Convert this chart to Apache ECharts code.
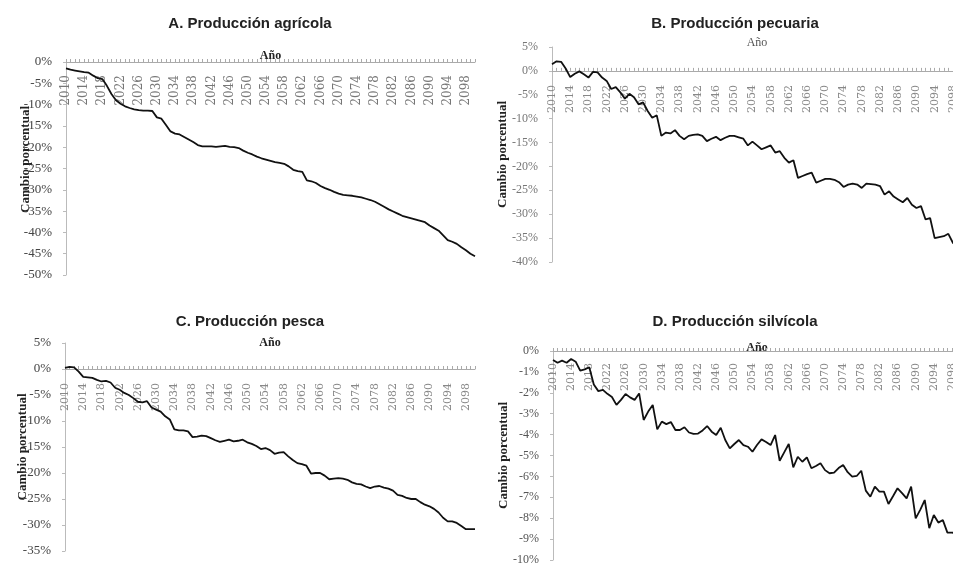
<!DOCTYPE html>
<html>
<head>
<meta charset="utf-8">
<script src="https://cdn.jsdelivr.net/npm/echarts@6/dist/echarts.min.js"></script>
<style>
  html, body { margin: 0; padding: 0; background: #fff; }
  #chart { width: 953px; height: 563px; }
</style>
</head>
<body>
<div id="chart"></div>
<script>
// años 2010 - 2100
const years = []
for (let y = 2010; y <= 2100; y++) years.push(String(y))

const titles = ['A. Producción agrícola', 'B. Producción pecuaria', 'C. Producción pesca', 'D. Producción silvícola']

// cambio porcentual (%)
const agricola = [
  -1.5, -1.8, -2.0, -2.2, -2.4, -2.5, -3.2, -3.8, -4.0, -5.6,
  -7.5, -9.0, -9.8, -10.4, -10.8, -11.1, -11.3, -11.4, -11.4, -11.5,
  -13.0, -13.3, -14.8, -16.3, -16.8, -17.0, -17.6, -18.2, -18.8, -19.5,
  -19.8, -19.8, -19.8, -19.9, -19.8, -19.7, -19.9, -20.0, -20.2, -20.8,
  -21.3, -21.7, -22.2, -22.6, -22.9, -23.2, -23.5, -23.7, -23.9, -24.5,
  -25.3, -25.6, -25.8, -27.8, -28.0, -28.4, -29.1, -29.6, -30.0, -30.5,
  -30.9, -31.2, -31.3, -31.4, -31.6, -31.8, -32.1, -32.4, -32.8, -33.4,
  -34.0, -34.6, -35.1, -35.6, -36.1, -36.4, -36.7, -37.0, -37.3, -37.6,
  -38.4, -39.0, -39.6, -40.7, -41.8, -42.2, -42.7, -43.5, -44.2, -45.0,
  -45.6
]
const pecuaria = [
  1.4, 2.0, 1.9, 0.5, -1.3, -0.6, -0.1, -0.7, -1.4, -0.2,
  -0.3, -1.4, -2.1, -3.8, -3.4, -4.5, -5.8, -4.8, -5.5, -7.0,
  -6.6, -8.4, -9.8, -9.3, -13.6, -12.9, -13.1, -12.4, -13.6, -14.3,
  -13.6, -13.4, -13.3, -13.6, -14.7, -14.2, -13.8, -14.5, -14.0, -13.6,
  -13.6, -13.9, -14.2, -15.6, -14.8, -15.6, -16.4, -16.0, -15.6, -17.1,
  -16.8, -18.2, -19.2, -18.7, -22.4, -22.0, -21.6, -21.3, -23.4, -23.0,
  -22.6, -22.6, -22.8, -23.3, -24.3, -23.8, -23.6, -23.8, -24.5, -23.6,
  -23.7, -23.8, -24.1, -25.9, -25.2, -26.3, -26.9, -27.5, -26.6, -28.0,
  -28.7, -28.3, -31.1, -30.8, -35.0, -34.8, -34.6, -34.1, -36.0, -36.6,
  -37.2
]
const pesca = [
  0.2, 0.4, 0.3, -0.5, -1.5, -1.6, -1.7, -2.1, -2.4, -2.3,
  -2.6, -3.6, -4.0, -4.6, -5.0, -5.6, -6.3, -6.4, -6.2, -7.4,
  -7.8, -8.2, -9.1, -9.7, -11.6, -11.8, -11.8, -12.0, -13.1, -13.0,
  -12.8, -12.9, -13.3, -13.7, -14.0, -13.8, -13.6, -13.9, -13.8, -13.6,
  -14.1, -14.4, -14.8, -15.4, -15.2, -15.6, -16.3, -16.1, -16.0, -16.8,
  -17.5, -18.1, -18.3, -18.6, -20.1, -20.0, -20.0, -20.5, -21.2, -21.1,
  -21.0, -21.1, -21.3, -21.8, -22.1, -22.2, -22.6, -22.9, -22.6, -22.5,
  -22.8, -23.0, -23.4, -24.2, -24.4, -24.8, -25.0, -25.0, -25.6, -26.1,
  -26.4, -26.9, -27.6, -28.6, -29.3, -29.3, -29.6, -30.2, -30.8, -30.8,
  -30.8
]
const silvicola = [
  -0.43, -0.56, -0.46, -0.56, -0.38, -0.51, -0.94, -0.88, -0.78, -1.60,
  -1.92, -1.86, -2.05, -2.20, -2.58, -2.34, -2.06, -2.22, -2.34, -2.03,
  -3.30, -2.90, -2.58, -3.75, -3.38, -3.50, -3.40, -3.78, -3.78, -3.65,
  -3.90, -3.97, -3.95, -3.80, -3.59, -3.86, -4.02, -3.67, -4.26, -4.66,
  -4.45, -4.26, -4.50, -4.58, -4.82, -4.50, -4.23, -4.35, -4.50, -4.02,
  -5.25, -4.85, -4.45, -5.57, -5.06, -5.30, -5.09, -5.61, -5.50, -5.37,
  -5.70, -5.85, -5.82, -5.60, -5.45, -5.80, -6.01, -5.98, -5.73, -6.68,
  -6.97, -6.49, -6.73, -6.73, -7.32, -6.95, -6.57, -6.80, -7.05, -6.49,
  -8.01, -7.60, -7.13, -8.48, -7.85, -8.21, -8.09, -8.69, -8.69, -8.72,
  -8.75
]

const serie = [agricola, pecuaria, pesca, silvicola]
const yMin = [-50, -40, -35, -10]
const yMax = [0, 5, 5, 0]
const yStep = [5, 5, 5, 1]

// pixel layout of each panel (B y D se salen por la derecha, como en el original)
const grids = [
  { left: 66, top: 62, width: 409, height: 213 },
  { left: 552, top: 47, width: 410, height: 215 },
  { left: 65, top: 343, width: 410, height: 208 },
  { left: 553, top: 351, width: 408, height: 209 }
]
const titlePos = [[245, 11], [730, 11], [245, 309], [730, 309]]
const anoGap = [0, -2, -6, -3]
const nameGap = [34, 43, 36, 43]
const namePad = [[0, 0, 0, 18], [0, 0, 0, 0], [0, 0, 0, 0], [0, 0, 0, 0]]
const lblSize = [13, 12, 13, 12]
const lblColor = ['#444', '#777', '#444', '#555']
const xLblSize = [12, 11, 11, 11]
const xLblColor = ['#777', '#888', '#888', '#888']
const xLblMargin = [13, 38, 40, 12]

const myChart = echarts.init(document.getElementById('chart'))

let title = [], xAxis = [], yAxis = [], series = []
for (let i = 0; i < 4; i++) {
  grids[i].outerBoundsMode = 'none'
  grids[i].containLabel = false
  title.push({
    text: titles[i],
    left: titlePos[i][0],
    top: titlePos[i][1],
    textAlign: 'center',
    textStyle: { fontFamily: 'Liberation Sans', fontSize: 15, fontWeight: 'bold', color: '#222' }
  })
  xAxis.push({
    type: 'category',
    gridIndex: i,
    data: years,
    position: 'top',
    boundaryGap: false,
    name: 'Año',
    nameLocation: 'middle',
    nameGap: anoGap[i],
    nameMoveOverlap: false,
    nameTextStyle: { fontFamily: 'Liberation Serif', fontSize: 12, fontWeight: i === 1 ? 'normal' : 'bold', color: i === 1 ? '#555' : '#222' },
    axisLine: { onZero: true, lineStyle: { color: '#aaa', width: 1 } },
    axisTick: { show: true, interval: 0, length: 3, lineStyle: { color: '#aaa' } },
    axisLabel: {
      inside: true,
      interval: 3,
      rotate: 90,
      align: 'right',
      verticalAlign: 'middle',
      margin: xLblMargin[i],
      fontFamily: 'DejaVu Serif',
      fontSize: xLblSize[i],
      color: xLblColor[i]
    },
    splitLine: { show: false }
  })
  yAxis.push({
    type: 'value',
    gridIndex: i,
    min: yMin[i],
    max: yMax[i],
    interval: yStep[i],
    name: 'Cambio porcentual',
    nameLocation: 'middle',
    nameGap: nameGap[i],
    nameMoveOverlap: false,
    nameTextStyle: { fontFamily: 'Liberation Serif', fontSize: 13, fontWeight: 'bold', color: '#222', padding: namePad[i] },
    axisLine: { show: true, lineStyle: { color: '#bbb' } },
    axisTick: { show: true, length: 3, lineStyle: { color: '#bbb' } },
    axisLabel: {
      margin: 14,
      fontFamily: 'Liberation Serif',
      fontSize: lblSize[i],
      color: lblColor[i],
      formatter: v => v + '%'
    },
    splitLine: { show: false }
  })
  series.push({
    type: 'line',
    xAxisIndex: i,
    yAxisIndex: i,
    data: serie[i],
    showSymbol: false,
    symbol: 'none',
    lineStyle: { color: '#111', width: 1.8 },
    animation: false
  })
}

const option = {
  animation: false,
  backgroundColor: '#fff',
  title: title,
  grid: grids,
  xAxis: xAxis,
  yAxis: yAxis,
  series: series
}
myChart.setOption(option)
</script>
</body>
</html>
